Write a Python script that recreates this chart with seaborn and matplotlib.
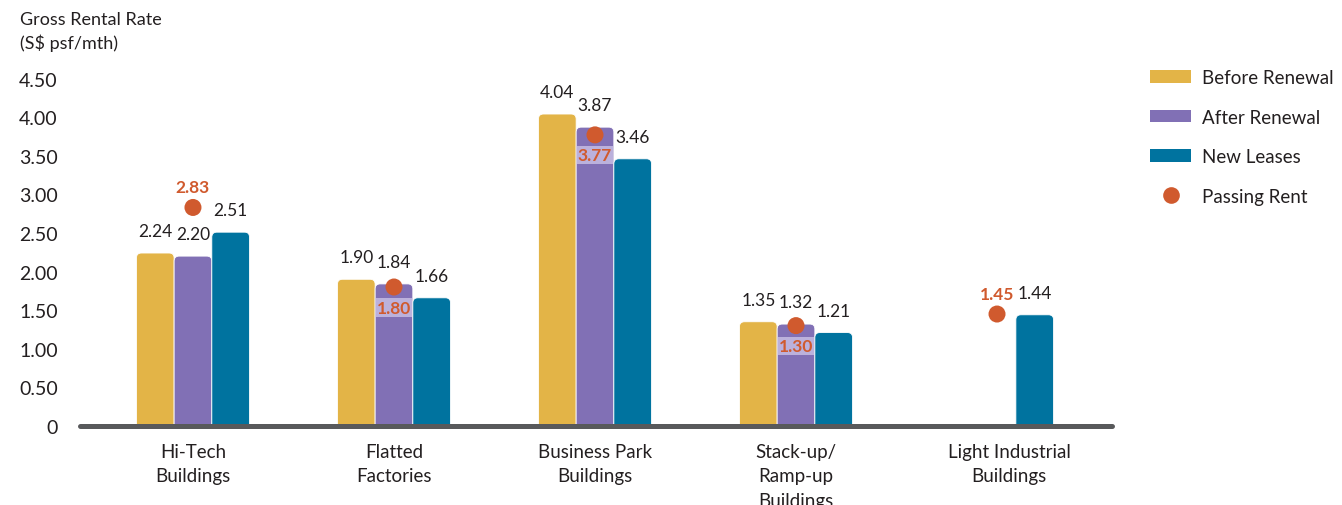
import numpy as np
import pandas as pd
import matplotlib
matplotlib.use("Agg")
import matplotlib.pyplot as plt
import seaborn as sns
from matplotlib.patches import FancyBboxPatch, Patch
from matplotlib.lines import Line2D

# ---- data -------------------------------------------------------------
categories = ["Hi-Tech\nBuildings", "Flatted\nFactories", "Business Park\nBuildings",
              "Stack-up/\nRamp-up\nBuildings", "Light Industrial\nBuildings"]
series = ["Before Renewal", "After Renewal", "New Leases"]
before_renewal = [2.24, 1.90, 4.04, 1.35, np.nan]
after_renewal = [2.20, 1.84, 3.87, 1.32, np.nan]
new_leases = [2.51, 1.66, 3.46, 1.21, 1.44]
passing_rent = [2.83, 1.80, 3.77, 1.30, 1.45]
passing_label_side = ["above", "below", "below", "below", "above"]
yticks = [0, 0.5, 1.0, 1.5, 2.0, 2.5, 3.0, 3.5, 4.0, 4.5]
ytick_labels = ["0", "0.50", "1.00", "1.50", "2.00", "2.50", "3.00", "3.50", "4.00", "4.50"]

# ---- style ------------------------------------------------------------
sns.set_theme(style="white")
plt.rcParams["font.family"] = ["Lato", "DejaVu Sans"]
TXT = "#231F20"
colors = {"Before Renewal": "#E3B447", "After Renewal": "#8170B5", "New Leases": "#00739F"}
DOT = "#D05A2E"
LABEL_BG = "#BBB1DC"

df = pd.DataFrame({
    "category": np.repeat(categories, len(series)),
    "series": series * len(categories),
    "value": np.ravel(np.column_stack([before_renewal, after_renewal, new_leases])),
}).dropna()

W, H = 1342, 506
fig = plt.figure(figsize=(W / 100, H / 100), dpi=100)
ax = fig.add_axes([80 / W, 79 / H, (1112 - 80) / W, (427.5 - 80) / H])

group_width = 0.5625
sns.barplot(data=df, x="category", y="value", hue="series", order=categories,
            hue_order=series, palette=colors, width=group_width, gap=0,
            errorbar=None, legend=False, ax=ax, saturation=1)

ax.set_xlim(-0.562, 4.572)
ax.set_ylim(0, 4.5)

# swap plain rectangles for bars with rounded tops
px_x = ax.transData.transform((1, 0))[0] - ax.transData.transform((0, 0))[0]
px_y = ax.transData.transform((0, 1))[1] - ax.transData.transform((0, 0))[1]
r_px = 5.0
rx = r_px / px_x
aspect = px_x / px_y
bars = [p for p in list(ax.patches) if p.get_height() > 0]
for p in bars:
    x0, w, h = p.get_x(), p.get_width(), p.get_height()
    fc = p.get_facecolor()
    p.remove()
    fb = FancyBboxPatch((x0, -0.2), w, h + 0.2,
                        boxstyle=f"round,pad=0,rounding_size={rx}",
                        mutation_aspect=aspect, facecolor=fc,
                        edgecolor="white", linewidth=0.6, zorder=2)
    ax.add_patch(fb)
    ax.annotate(f"{h:.2f}", xy=(x0 + w / 2, h), xytext=(0, 10),
                textcoords="offset points", ha="center", va="bottom",
                fontsize=12.5, color=TXT, zorder=5)

# passing rent markers (drawn on the middle bar of each group)
xs = np.arange(len(categories))
sns.scatterplot(x=xs, y=passing_rent, color=DOT, s=150, edgecolor="none",
                zorder=4, ax=ax, legend=False, clip_on=False)
for x, v, side in zip(xs, passing_rent, passing_label_side):
    if side == "above":
        ax.annotate(f"{v:.2f}", xy=(x, v), xytext=(0, 9), textcoords="offset points",
                    ha="center", va="bottom", fontsize=12.5, fontweight="bold",
                    color=DOT, zorder=6)
    else:
        ax.annotate(f"{v:.2f}", xy=(x, v), xytext=(0, -9), textcoords="offset points",
                    ha="center", va="top", fontsize=12.5, fontweight="bold",
                    color=DOT, zorder=6,
                    bbox=dict(boxstyle="square,pad=0.06", fc=LABEL_BG, ec="none"))

# baseline
ax.axhline(0, color="#58595B", lw=3.6, zorder=3, clip_on=False)

# axes cosmetics
sns.despine(ax=ax, left=True, bottom=True)
ax.grid(False)
ax.set_xlabel("")
ax.set_ylabel("")
ax.set_yticks(yticks)
ax.set_yticklabels(ytick_labels)
ax.set_xticks([0, 1, 2, 3, 4.06])
ax.set_xticklabels(categories, linespacing=1.55)
ax.tick_params(axis="y", length=0, pad=16, labelsize=14, labelcolor=TXT)
ax.tick_params(axis="x", length=0, pad=12, labelsize=13.5, labelcolor=TXT)

fig.text(20 / W, 1 - 12 / H, "Gross Rental Rate\n(S$ psf/mth)", ha="left", va="top",
         fontsize=13, color=TXT, linespacing=1.45)

handles = [Patch(facecolor=colors[s], edgecolor="none") for s in series]
handles.append(Line2D([], [], marker="o", ls="", color=DOT, markersize=12,
                      markeredgecolor="none"))
ax.legend(handles, series + ["Passing Rent"], loc="upper left",
          bbox_to_anchor=(1150 / W, 1 - 70 / H), bbox_transform=fig.transFigure,
          frameon=False, fontsize=13.5, handlelength=2.2, handleheight=0.65,
          handletextpad=0.6, labelspacing=1.2, borderaxespad=0, borderpad=0,
          labelcolor=TXT)

fig.savefig("out.png", dpi=100)
